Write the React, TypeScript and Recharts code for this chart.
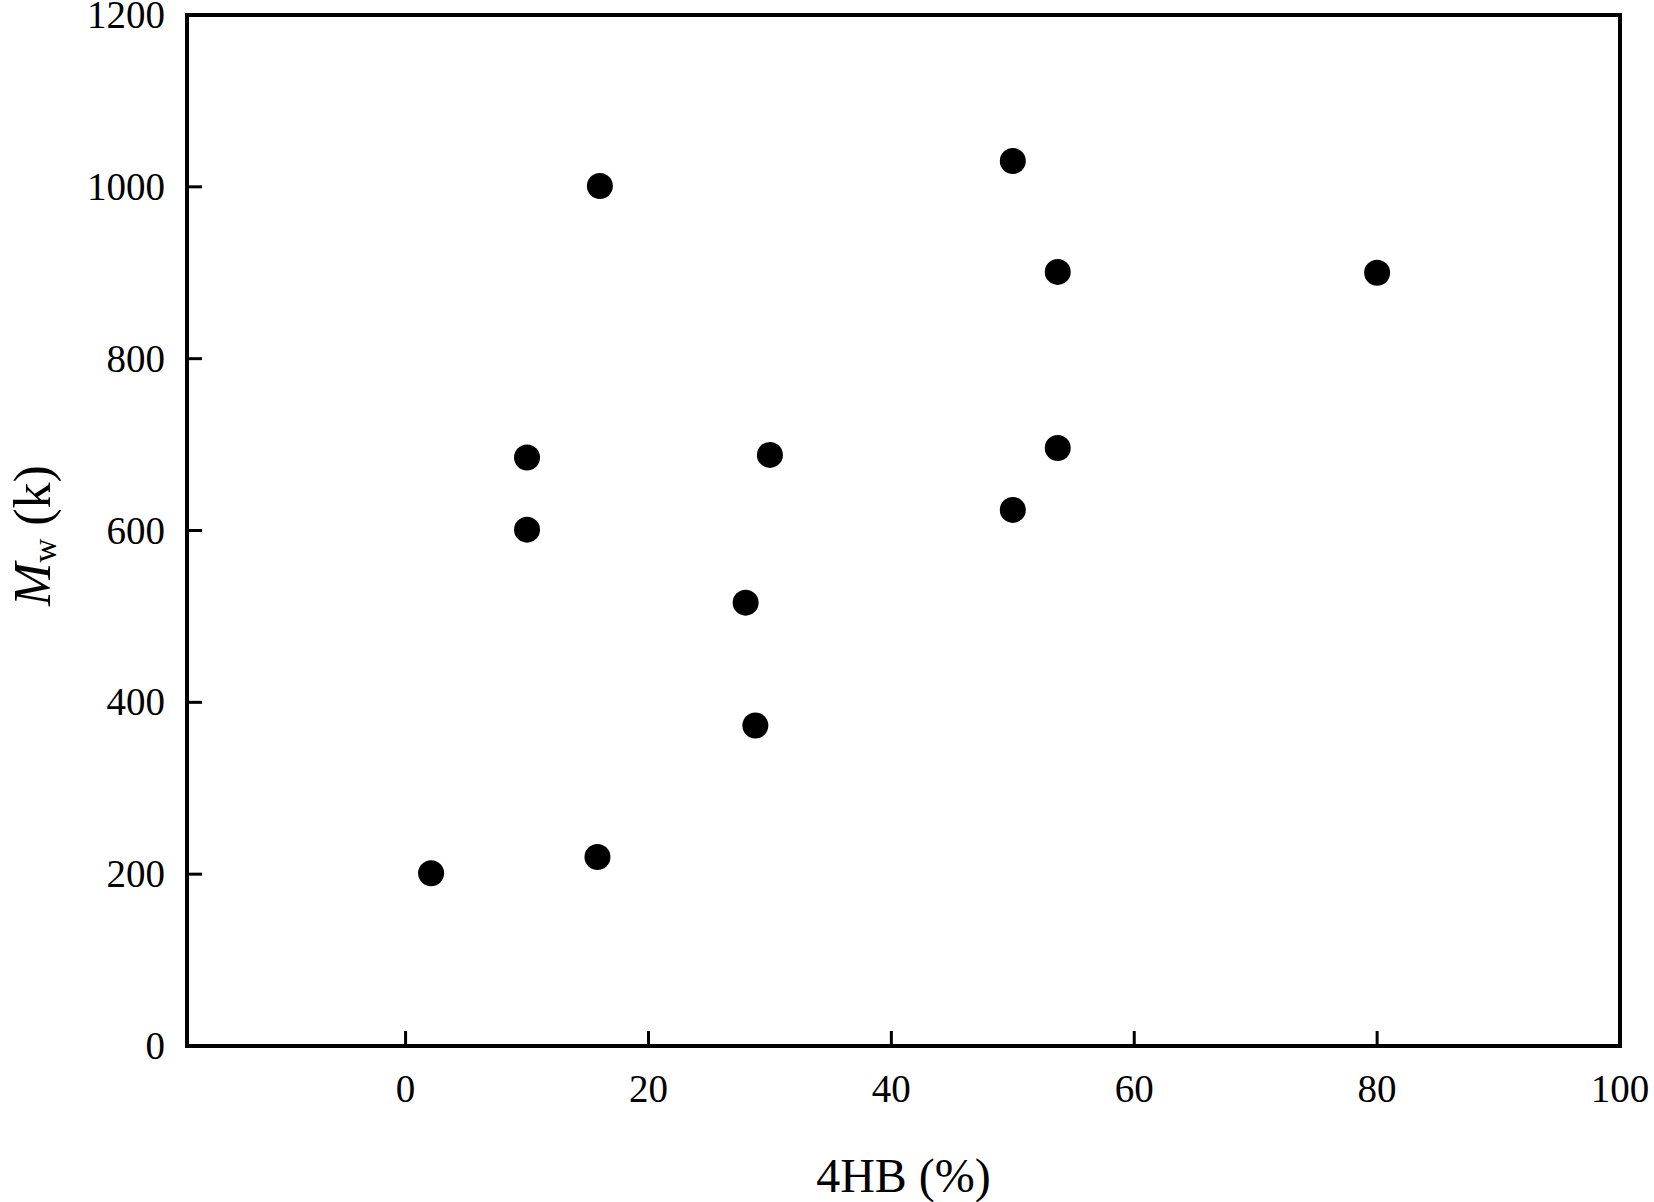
import React from "react";
import { ScatterChart, Scatter, XAxis, YAxis, ReferenceArea } from "recharts";

const hbPercent = [2.1, 10, 10, 16, 15.8, 28, 28.8, 30, 50, 50, 53.7, 53.7, 80];
const mwValues = [201, 685, 601, 1001, 220, 516, 373, 688, 1030, 624, 901, 696, 900];
const xTicks = [0, 20, 40, 60, 80, 100];
const yTicks = [0, 200, 400, 600, 800, 1000, 1200];

const data = hbPercent.map((x, i) => ({ x, y: mwValues[i] }));

const FONT = "'Liberation Serif', 'Times New Roman', serif";

const XTick = (props: any) => {
  const { x, y, payload } = props;
  return (
    <g>
      <line x1={x} x2={x} y1={y} y2={y - 15} stroke="#000" strokeWidth={3} />
      <text x={x} y={y + 56} textAnchor="middle" fontSize={39} fontFamily={FONT} fill="#000">
        {payload.value}
      </text>
    </g>
  );
};

const YTick = (props: any) => {
  const { x, y, payload } = props;
  return (
    <g>
      <line x1={x} x2={x + 15} y1={y} y2={y} stroke="#000" strokeWidth={3} />
      <text x={x - 22} y={y + 13} textAnchor="end" fontSize={39} fontFamily={FONT} fill="#000">
        {payload.value}
      </text>
    </g>
  );
};

const XLabel = (props: any) => {
  const vb = props.viewBox || {};
  return (
    <text x={vb.x + vb.width / 2} y={vb.y + 146} textAnchor="middle" fontSize={48} fontFamily={FONT} fill="#000">
      4HB (%)
    </text>
  );
};

const YLabel = (props: any) => {
  const vb = props.viewBox || {};
  const cx = 50;
  const cy = vb.y + vb.height / 2 + 5;
  return (
    <text
      x={cx}
      y={cy}
      transform={`rotate(-90, ${cx}, ${cy})`}
      textAnchor="middle"
      fontSize={52}
      fontFamily={FONT}
      fill="#000"
    >
      <tspan fontStyle="italic">M</tspan>
      <tspan fontSize={33} dy={6}>w</tspan>
      <tspan dy={-6}> (k)</tspan>
    </text>
  );
};

const Dot = (props: any) => <circle cx={props.cx} cy={props.cy} r={13} fill="#000" />;

export default function App() {
  return (
    <div style={{ position: "absolute", left: 0, top: 0, width: 1654, height: 1202 }}>
      <ScatterChart width={1654} height={1202} margin={{ top: 15, right: 34, left: 0, bottom: 0 }}>
        <XAxis
          type="number"
          dataKey="x"
          domain={[-18, 100]}
          ticks={xTicks}
          interval={0}
          height={156}
          tickSize={0}
          tickMargin={0}
          tickLine={false}
          axisLine={{ stroke: "#000", strokeWidth: 4 }}
          tick={<XTick />}
          label={<XLabel />}
          allowDataOverflow
        />
        <YAxis
          type="number"
          dataKey="y"
          domain={[0, 1200]}
          ticks={yTicks}
          interval={0}
          width={187}
          tickSize={0}
          tickMargin={0}
          tickLine={false}
          axisLine={{ stroke: "#000", strokeWidth: 4 }}
          tick={<YTick />}
          label={<YLabel />}
          allowDataOverflow
        />
        <ReferenceArea x1={-18} x2={100} y1={0} y2={1200} fill="none" stroke="#000" strokeWidth={4} fillOpacity={0} />
        <Scatter data={data} shape={<Dot />} isAnimationActive={false} />
      </ScatterChart>
    </div>
  );
}
